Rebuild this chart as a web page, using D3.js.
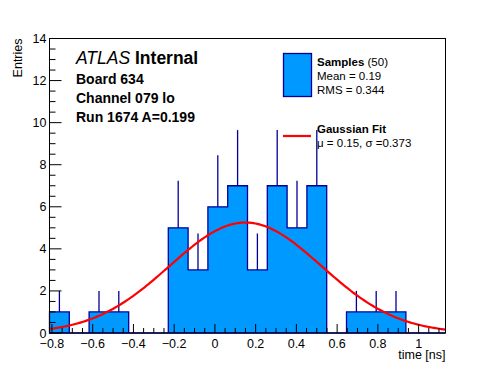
<!DOCTYPE html>
<html>
<head>
<meta charset="utf-8">
<style>
  body { margin: 0; background: #fff; }
  svg { display: block; font-family: 'Liberation Sans', Arial, sans-serif; }
  .tick-label { font-size: 12.5px; fill: #000; }
</style>
</head>
<body>
<div id="chart"></div>
<script src="https://d3js.org/d3.v7.min.js"></script>
<script>
// histogram bins: 20 bins over the time range
var xMin = -0.812, xMax = 1.132;
var binCounts = [1, 0, 1, 1, 0, 0, 5, 3, 6, 7, 3, 7, 5, 7, 0, 1, 1, 1, 0, 0];
var xTicks = [-0.8, -0.6, -0.4, -0.2, 0, 0.2, 0.4, 0.6, 0.8, 1];
var xTickLabels = ['\u22120.8', '\u22120.6', '\u22120.4', '\u22120.2', '0', '0.2', '0.4', '0.6', '0.8', '1'];
var yTicks = [0, 2, 4, 6, 8, 10, 12, 14];
// gaussian fit parameters
var fitConst = 5.25, fitMean = 0.15, fitSigma = 0.373;

var width = 496, height = 372;
var frame = { left: 49.5, right: 445.5, top: 38.5, bottom: 333 };
var fillColor = '#0099ff', lineColor = '#000099';

var svg = d3.select('#chart').append('svg')
  .attr('width', width)
  .attr('height', height);

var x = d3.scaleLinear().domain([xMin, xMax]).range([frame.left, frame.right]);
var y = d3.scaleLinear().domain([0, 14]).range([frame.bottom, frame.top]);

var binW = (xMax - xMin) / binCounts.length;
var bins = binCounts.map(function(c, i) {
  return { x0: xMin + i * binW, x1: xMin + (i + 1) * binW, n: c };
});

// error bars first, the filled histogram covers the lower half
svg.append('g').selectAll('line')
  .data(bins.filter(function(d) { return d.n > 0; }))
  .enter().append('line')
  .attr('x1', function(d) { return x((d.x0 + d.x1) / 2); })
  .attr('x2', function(d) { return x((d.x0 + d.x1) / 2); })
  .attr('y1', function(d) { return y(d.n - Math.sqrt(d.n)); })
  .attr('y2', function(d) { return y(d.n + Math.sqrt(d.n)); })
  .attr('stroke', lineColor)
  .attr('stroke-width', 1.3);

// step outline of the histogram
var pts = [[x(xMin), y(0)]];
bins.forEach(function(d) {
  pts.push([x(d.x0), y(d.n)]);
  pts.push([x(d.x1), y(d.n)]);
});
pts.push([x(xMax), y(0)]);

svg.append('path')
  .attr('d', d3.line()(pts) + 'Z')
  .attr('fill', fillColor)
  .attr('stroke', lineColor)
  .attr('stroke-width', 1.3);

// gaussian fit curve
var curve = d3.range(0, 201).map(function(i) {
  var t = xMin + (xMax - xMin) * i / 200;
  var v = fitConst * Math.exp(-0.5 * Math.pow((t - fitMean) / fitSigma, 2));
  return [x(t), y(v)];
});
svg.append('path')
  .attr('d', d3.line()(curve))
  .attr('fill', 'none')
  .attr('stroke', '#ff0000')
  .attr('stroke-width', 2.2);

// frame
svg.append('rect')
  .attr('x', frame.left)
  .attr('y', frame.top)
  .attr('width', frame.right - frame.left)
  .attr('height', frame.bottom - frame.top)
  .attr('fill', 'none')
  .attr('stroke', '#000')
  .attr('stroke-width', 1);

// x ticks (pointing up)
var gx = svg.append('g');
d3.range(-0.8, 1.13, 0.05).forEach(function(t) {
  var major = Math.abs(t * 5 - Math.round(t * 5)) < 1e-6;
  gx.append('line')
    .attr('x1', x(t)).attr('x2', x(t))
    .attr('y1', frame.bottom).attr('y2', frame.bottom - (major ? 9 : 5))
    .attr('stroke', '#000');
});
gx.selectAll('text')
  .data(xTicks)
  .enter().append('text')
  .attr('class', 'tick-label')
  .attr('x', function(d) { return x(d); })
  .attr('y', frame.bottom + 15)
  .attr('text-anchor', 'middle')
  .text(function(d, i) { return xTickLabels[i]; });

svg.append('text')
  .attr('x', frame.right)
  .attr('y', 359)
  .attr('text-anchor', 'end')
  .style('font-size', '12.5px')
  .text('time [ns]');

// y ticks (pointing right)
var gy = svg.append('g');
d3.range(0, 14.01, 0.5).forEach(function(t) {
  var major = Math.abs(t / 2 - Math.round(t / 2)) < 1e-6;
  gy.append('line')
    .attr('x1', frame.left).attr('x2', frame.left + (major ? 12 : 6))
    .attr('y1', y(t)).attr('y2', y(t))
    .attr('stroke', '#000');
});
gy.selectAll('text')
  .data(yTicks)
  .enter().append('text')
  .attr('class', 'tick-label')
  .attr('x', frame.left - 3)
  .attr('y', function(d) { return y(d) + 4.5; })
  .attr('text-anchor', 'end')
  .text(function(d) { return d; });

svg.append('text')
  .attr('transform', 'translate(22,' + frame.top + ') rotate(-90)')
  .attr('text-anchor', 'end')
  .style('font-size', '12.5px')
  .text('Entries');

// ATLAS label block
var lab = svg.append('g');
var atlas = lab.append('text').attr('x', 76).attr('y', 64).style('font-size', '17.5px');
atlas.append('tspan').style('font-style', 'italic').text('ATLAS');
atlas.append('tspan').style('font-weight', 'bold').text(' Internal');
['Board 634', 'Channel 079 lo', 'Run 1674 A=0.199'].forEach(function(s, i) {
  lab.append('text')
    .attr('x', 76)
    .attr('y', 84 + i * 19)
    .style('font-size', '14px')
    .style('font-weight', 'bold')
    .text(s);
});

// legend
var leg = svg.append('g');
leg.append('rect')
  .attr('x', 283.5).attr('y', 53.5)
  .attr('width', 28).attr('height', 43)
  .attr('fill', fillColor)
  .attr('stroke', lineColor)
  .attr('stroke-width', 1.3);
var t1 = leg.append('text').attr('x', 317).attr('y', 66).style('font-size', '11.5px');
t1.append('tspan').style('font-weight', 'bold').text('Samples');
t1.append('tspan').text(' (50)');
leg.append('text').attr('x', 317).attr('y', 80).style('font-size', '11.5px').text('Mean = 0.19');
leg.append('text').attr('x', 317).attr('y', 94).style('font-size', '11.5px').text('RMS = 0.344');

leg.append('line')
  .attr('x1', 283).attr('x2', 311)
  .attr('y1', 136).attr('y2', 136)
  .attr('stroke', '#ff0000')
  .attr('stroke-width', 2.2);
leg.append('text').attr('x', 317).attr('y', 133).style('font-size', '11.5px')
  .style('font-weight', 'bold').text('Gaussian Fit');
leg.append('text').attr('x', 317).attr('y', 147).style('font-size', '11.5px')
  .text('\u03bc = 0.15, \u03c3 =0.373');
</script>
</body>
</html>
